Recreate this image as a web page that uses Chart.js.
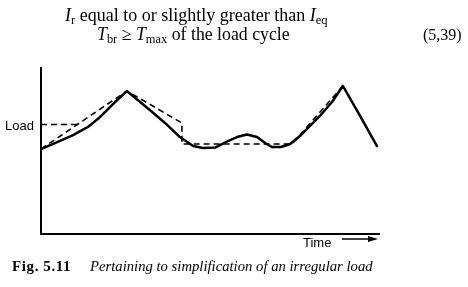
<!DOCTYPE html>
<html>
<head>
<meta charset="utf-8">
<script src="https://cdn.jsdelivr.net/npm/chart.js@4.4.1/dist/chart.umd.min.js"></script>
<style>
  html, body { margin: 0; padding: 0; background: #fff; }
  #wrap { position: relative; width: 468px; height: 287px; overflow: hidden; background: #fff; }
  #c { position: absolute; left: 0; top: 0; }
  .t { position: absolute; white-space: nowrap; color: #000; line-height: 1; }
  .serif { font-family: "Liberation Serif", "DejaVu Serif", serif; }
  .sans { font-family: "Liberation Sans", Arial, sans-serif; }
  sub { font-size: 0.7em; vertical-align: -0.25em; line-height: 0; }
</style>
</head>
<body>
<div id="wrap">
  <canvas id="c" width="468" height="287"></canvas>
  <div class="t serif" id="eq1" style="left:65px; top:6px; font-size:18px;"><i>I</i><sub>r</sub> equal to or slightly greater than <i>I</i><sub>eq</sub></div>
  <div class="t serif" id="eq2" style="left:97px; top:26px; font-size:17.8px;"><i>T</i><sub>br</sub> ≥ <i>T</i><sub>max</sub> of the load cycle</div>
  <div class="t serif" id="eqn" style="left:423px; top:27px; font-size:16px;">(5,39)</div>
  <div class="t sans" id="ylab" style="left:5px; top:119px; font-size:13px;">Load</div>
  <div class="t sans" id="xlab" style="left:303px; top:236px; font-size:13px;">Time</div>
  <svg style="position:absolute; left:340px; top:233px;" width="42" height="12">
    <line x1="2" y1="6" x2="32" y2="6" stroke="#000" stroke-width="1.5"/>
    <polygon points="38,6 28,3 28,9" fill="#000"/>
  </svg>
  <div class="t serif" id="cap" style="left:12px; top:259px; font-size:15px; letter-spacing:0.6px;"><b>Fig. 5.11</b></div>
  <div class="t serif" id="cap2" style="left:90px; top:259px; font-size:14.7px;"><i>Pertaining to simplification of an irregular load</i></div>
</div>
<script>
// Values (time and load in arbitrary units, 0–100)
const actualTime = [0, 4.1, 9.5, 13.9, 17.5, 21.3, 25.4, 32.2, 36.7, 41.1, 45.0, 47.9, 51.5, 55.3, 58.0, 60.9, 63.9, 66.3, 68.3, 71.0, 73.7, 76.6, 79.6, 82.5, 86.1, 89.3, 94.4, 99.4];
const actualLoad = [51.2, 54.8, 59.6, 64.5, 70.5, 78.3, 86.1, 74.7, 66.9, 58.4, 53.0, 51.8, 52.1, 56.0, 58.4, 59.9, 58.4, 54.8, 52.4, 52.4, 54.2, 59.0, 65.1, 71.1, 79.5, 89.2, 71.1, 53.0];

const simpleTime = [0, 25.4, 41.7, 41.7, 74.3, 89.3];
const simpleLoad = [51.2, 86.1, 66.9, 54.2, 54.2, 89.2];

const levelTime = [0, 11.5];
const levelLoad = [66, 66];

const toPts = (xs, ys) => xs.map((x, i) => ({ x: x, y: ys[i] }));

new Chart(document.getElementById('c'), {
  type: 'scatter',
  data: {
    datasets: [
      { data: toPts(actualTime, actualLoad), showLine: true, borderColor: '#000', borderWidth: 2.5, pointRadius: 0, tension: 0, borderJoinStyle: 'round', borderCapStyle: 'round' },
      { data: toPts(simpleTime, simpleLoad), showLine: true, borderColor: '#000', borderWidth: 1.6, borderDash: [6, 4], pointRadius: 0, tension: 0 },
      { data: toPts(levelTime, levelLoad), showLine: true, borderColor: '#000', borderWidth: 1.6, borderDash: [6, 4], pointRadius: 0, tension: 0 }
    ]
  },
  options: {
    responsive: false,
    animation: false,
    layout: { padding: { left: 41, top: 68, right: 89, bottom: 53 } },
    plugins: { legend: { display: false }, tooltip: { enabled: false }, title: { display: false } },
    scales: {
      x: { type: 'linear', min: 0, max: 100, grid: { display: false, drawTicks: false }, ticks: { display: false }, border: { display: true, color: '#000', width: 2 } },
      y: { type: 'linear', min: 0, max: 100, grid: { display: false, drawTicks: false }, ticks: { display: false }, border: { display: true, color: '#000', width: 2 } }
    }
  }
});
</script>
</body>
</html>
